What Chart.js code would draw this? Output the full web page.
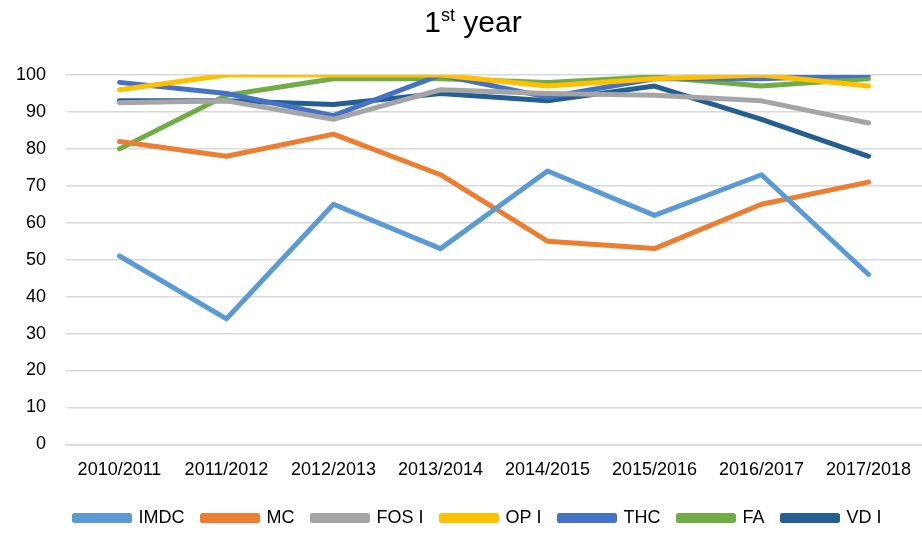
<!DOCTYPE html>
<html>
<head>
<meta charset="utf-8">
<script src="https://cdn.jsdelivr.net/npm/chart.js@4/dist/chart.umd.min.js"></script>
<style>
  body { margin: 0; background: #fff; }
  #wrap { position: relative; width: 922px; height: 534px; }
  #title { position: absolute; left: 12px; width: 922px; top: 5px; text-align: center;
           font-family: "Liberation Sans", Arial, sans-serif; font-size: 30px; color: #000; }
  #title sup { font-size: 18px; }
</style>
</head>
<body>
<div id="wrap">
  <div id="title">1<sup>st</sup> year</div>
  <canvas id="myChart" width="922" height="534"></canvas>
</div>
<script>
var years = ["2010/2011", "2011/2012", "2012/2013", "2013/2014", "2014/2015", "2015/2016", "2016/2017", "2017/2018"];
var imdc = [51, 34, 65, 53, 74, 62, 73, 46];
var mc   = [82, 78, 84, 73, 55, 53, 65, 71];
var fos  = [92.5, 93, 88, 96, 95, 94.5, 93, 87];
var op   = [96, 100, 100, 100, 97, 99, 100, 97];
var thc  = [98, 95, 89, 100, 94, 99, 99, 100];
var fa   = [80, 94.5, 99, 99, 98, 99.5, 97, 99];
var vd   = [93, 93, 92, 95, 93, 97, 88, 78];

var names  = ["IMDC", "MC", "FOS I", "OP I", "THC", "FA", "VD I"];
var series = [imdc, mc, fos, op, thc, fa, vd];
var colors = ["#5B9BD5", "#ED7D31", "#A5A5A5", "#FFC000", "#4472C4", "#70AD47", "#255E91"];

var font = "'Liberation Sans', Arial, sans-serif";

var sets = [];
for (var i = 0; i < names.length; i++) {
  sets.push({
    label: names[i],
    data: series[i],
    borderColor: colors[i],
    backgroundColor: colors[i],
    borderWidth: 5,
    pointRadius: 0,
    tension: 0,
    borderCapStyle: "round",
    borderJoinStyle: "round",
    fill: false
  });
}

// nudge the legend a bit, like the original
var legendShift = {
  id: "legendShift",
  afterLayout: function (chart) {
    var lg = chart.legend;
    if (lg) { lg.left += 16; lg.right += 16; lg.top += 3; lg.bottom += 3; }
  }
};

new Chart("myChart", {
  type: "line",
  data: { labels: years, datasets: sets },
  plugins: [legendShift],
  options: {
    responsive: false,
    animation: false,
    layout: { padding: { top: 75, left: 0, right: -2, bottom: 0 } },
    scales: {
      x: {
        offset: true,
        grid: { display: false },
        border: { color: "#d9d9d9", width: 1.5 },
        ticks: { color: "#000", font: { family: font, size: 18 }, padding: 7, maxRotation: 0, autoSkip: false }
      },
      y: {
        min: 0, max: 100,
        afterFit: function (s) { s.width = 66; },
        ticks: { stepSize: 10, color: "#000", font: { family: font, size: 18 }, padding: 20 },
        grid: { color: "#d9d9d9", lineWidth: 1.5, drawTicks: false },
        border: { display: false }
      }
    },
    plugins: {
      legend: {
        position: "bottom",
        labels: { color: "#000", font: { family: font, size: 18 }, boxWidth: 55, boxHeight: 5, padding: 18 }
      },
      title: { display: false },
      tooltip: { enabled: false }
    }
  }
});
</script>
</body>
</html>
